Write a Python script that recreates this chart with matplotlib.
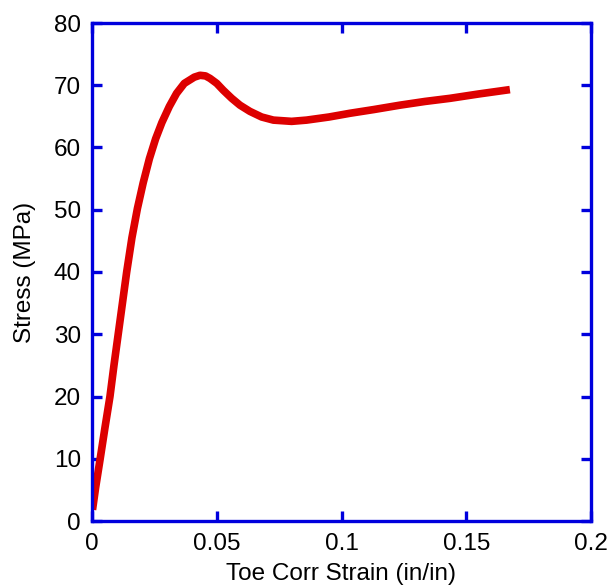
import matplotlib
matplotlib.use("Agg")
import matplotlib.pyplot as plt

# strain (in/in) vs stress (MPa)
strain = [0.0002, 0.0015, 0.0032, 0.0052, 0.0072, 0.0088, 0.0105, 0.0122, 0.0139,
          0.0160, 0.0182, 0.0205, 0.0230, 0.0255, 0.0280, 0.0310, 0.0339, 0.0370,
          0.0410, 0.0433, 0.0455, 0.0473, 0.0500, 0.0526, 0.0560, 0.0593, 0.0633,
          0.0680, 0.0727, 0.0800, 0.0860, 0.0950, 0.1034, 0.1130, 0.1234, 0.1335,
          0.1435, 0.1550, 0.1675]
stress = [1.8, 5.5, 9.8, 15.0, 20.0, 25.0, 30.0, 35.0, 40.0,
          45.5, 50.2, 54.3, 58.2, 61.4, 64.0, 66.6, 68.7, 70.3,
          71.3, 71.6, 71.5, 71.1, 70.3, 69.2, 67.9, 66.8, 65.8,
          64.9, 64.4, 64.2, 64.4, 64.9, 65.5, 66.1, 66.8, 67.4,
          67.9, 68.6, 69.3]

xticks = [0, 0.05, 0.1, 0.15, 0.2]
xticklabels = ["0", "0.05", "0.1", "0.15", "0.2"]
yticks = [0, 10, 20, 30, 40, 50, 60, 70, 80]

blue = "#0000DD"
red = "#DD0000"

plt.rcParams["font.family"] = ["Liberation Sans", "DejaVu Sans"]

fig = plt.figure(figsize=(6.10, 5.87), dpi=100)
ax = fig.add_axes([92 / 610, 1 - 521 / 587, 499 / 610, 498 / 587])

ax.plot(strain, stress, color=red, linewidth=5.5, solid_capstyle="butt",
        solid_joinstyle="round")

ax.set_xlim(0, 0.2)
ax.set_ylim(0, 80)
ax.set_xticks(xticks)
ax.set_xticklabels(xticklabels)
ax.set_yticks(yticks)

for s in ax.spines.values():
    s.set_color(blue)
    s.set_linewidth(2.4)

ax.tick_params(direction="in", length=7, width=2.4, color=blue,
               top=True, right=True, labelsize=17.5, labelcolor="black")
ax.tick_params(axis="x", pad=8.5)
ax.tick_params(axis="y", pad=8)

ax.set_xlabel("Toe Corr Strain (in/in)", fontsize=17.5, labelpad=6)
ax.set_ylabel("Stress (MPa)", fontsize=17.5, labelpad=13)

fig.savefig("out.png", dpi=100)
